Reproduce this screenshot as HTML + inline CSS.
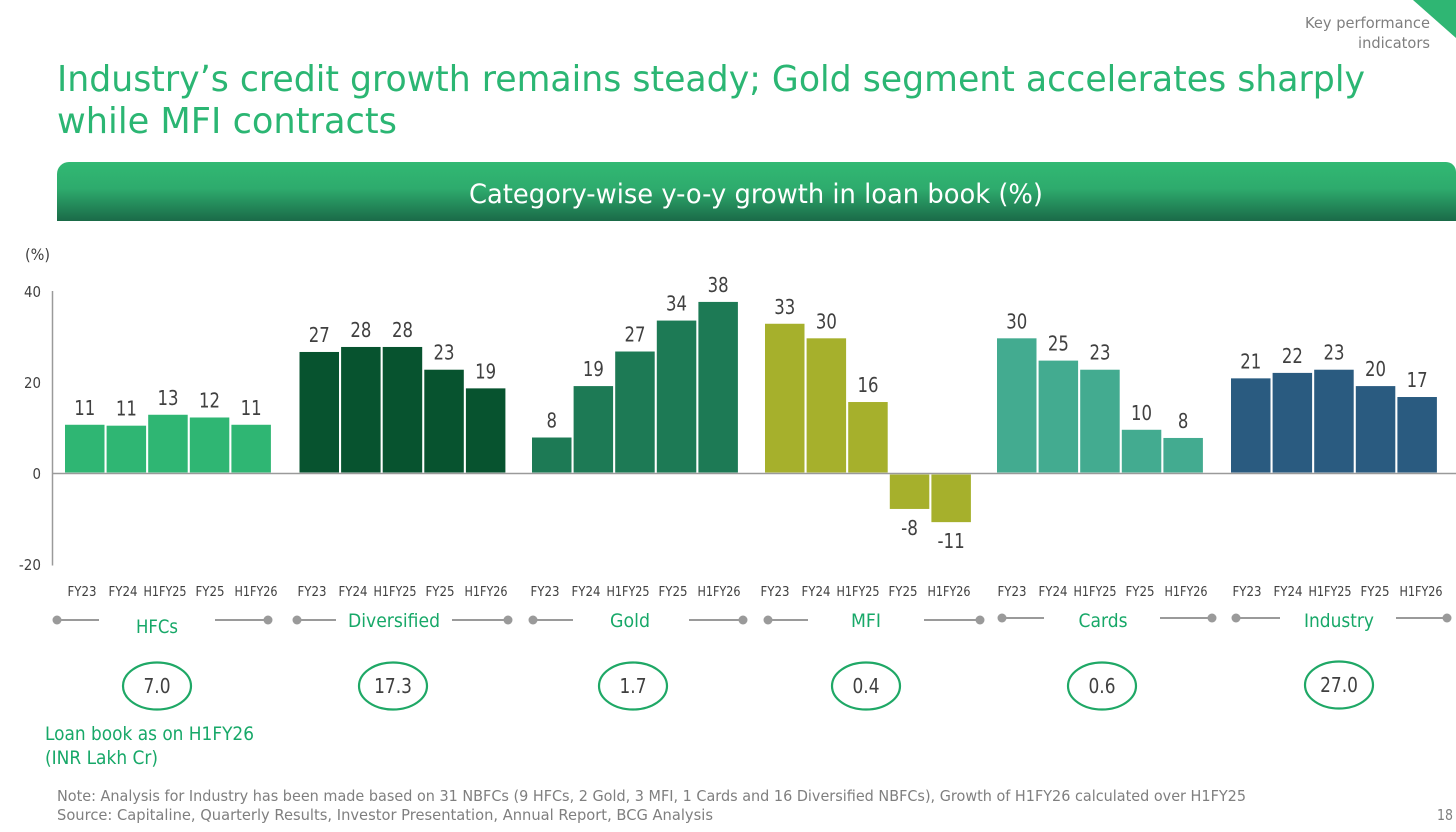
<!DOCTYPE html>
<html lang="en">
<head>
<meta charset="utf-8">
<title>Industry credit growth</title>
<style>
  html, body { margin: 0; padding: 0; background: #fff; }
  body { width: 1456px; height: 832px; overflow: hidden; }
  svg { display: block; font-family: "DejaVu Sans", "Liberation Sans", sans-serif; }
</style>
</head>
<body>
<svg id="chart" width="1456" height="832" viewBox="0 0 1456 832" xmlns="http://www.w3.org/2000/svg">
  <defs>
    <linearGradient id="headerGrad" x1="0" y1="0" x2="0" y2="1">
      <stop offset="0" stop-color="#31b973"/>
      <stop offset="0.45" stop-color="#2eab6d"/>
      <stop offset="1" stop-color="#1a6a48"/>
    </linearGradient>
  </defs>
  <rect width="1456" height="832" fill="#fff"/>
  <polygon points="1413,0 1456,0 1456,38" fill="#2fb673"/>
  <text x="1430" y="28" text-anchor="end" font-size="15.5" fill="#7f7f7f" textLength="125" lengthAdjust="spacingAndGlyphs">Key performance</text>
  <text x="1430" y="48" text-anchor="end" font-size="15.5" fill="#7f7f7f" textLength="72" lengthAdjust="spacingAndGlyphs">indicators</text>
  <text x="57" y="91" font-size="35.5" fill="#2bb673" textLength="1308" lengthAdjust="spacingAndGlyphs">Industry’s credit growth remains steady; Gold segment accelerates sharply</text>
  <text x="57" y="133" font-size="35.5" fill="#2bb673" textLength="340" lengthAdjust="spacingAndGlyphs">while MFI contracts</text>
  <path d="M57 221V174a12 12 0 0 1 12-12H1446a10 10 0 0 1 10 10V221Z" fill="url(#headerGrad)"/>
  <text x="469" y="203" font-size="27" fill="#fff" textLength="574" lengthAdjust="spacingAndGlyphs">Category-wise y-o-y growth in loan book (%)</text>
  <text x="25" y="260" font-size="16" fill="#404040" textLength="25" lengthAdjust="spacingAndGlyphs">(%)</text>
  <g id="plot"></g>
  <text x="45" y="740" font-size="19" fill="#17a868" textLength="209" lengthAdjust="spacingAndGlyphs">Loan book as on H1FY26</text>
  <text x="45" y="764" font-size="19" fill="#17a868" textLength="113" lengthAdjust="spacingAndGlyphs">(INR Lakh Cr)</text>
  <text x="57" y="801" font-size="15" fill="#7f7f7f" textLength="1189" lengthAdjust="spacingAndGlyphs">Note: Analysis for Industry has been made based on 31 NBFCs (9 HFCs, 2 Gold, 3 MFI, 1 Cards and 16 Diversified NBFCs), Growth of H1FY26 calculated over H1FY25</text>
  <text x="57" y="820" font-size="15" fill="#7f7f7f" textLength="656" lengthAdjust="spacingAndGlyphs">Source: Capitaline, Quarterly Results, Investor Presentation, Annual Report, BCG Analysis</text>
  <text x="1453" y="820" text-anchor="end" font-size="15" fill="#7f7f7f" textLength="16" lengthAdjust="spacingAndGlyphs">18</text>
</svg>
<script>
const categories = ["HFCs", "Diversified", "Gold", "MFI", "Cards", "Industry"];
const periods = ["FY23", "FY24", "H1FY25", "FY25", "H1FY26"];
const hfcValues = [10.6, 10.4, 12.8, 12.2, 10.6];
const diversifiedValues = [26.6, 27.7, 27.7, 22.7, 18.6];
const goldValues = [7.8, 19.1, 26.7, 33.5, 37.6];
const mfiValues = [32.8, 29.6, 15.6, -7.9, -10.8];
const cardsValues = [29.6, 24.7, 22.7, 9.5, 7.7];
const industryValues = [20.8, 22.0, 22.7, 19.1, 16.7];
const seriesValues = [hfcValues, diversifiedValues, goldValues, mfiValues, cardsValues, industryValues];
const hfcLabels = ["11", "11", "13", "12", "11"];
const diversifiedLabels = ["27", "28", "28", "23", "19"];
const goldLabels = ["8", "19", "27", "34", "38"];
const mfiLabels = ["33", "30", "16", "-8", "-11"];
const cardsLabels = ["30", "25", "23", "10", "8"];
const industryLabels = ["21", "22", "23", "20", "17"];
const seriesLabels = [hfcLabels, diversifiedLabels, goldLabels, mfiLabels, cardsLabels, industryLabels];
const loanBook = ["7.0", "17.3", "1.7", "0.4", "0.6", "27.0"];
const yTicks = [40, 20, 0, -20];

const NS = "http://www.w3.org/2000/svg";
const plot = document.getElementById("plot");
const colors = ["#2fb673", "#07532f", "#1d7a55", "#a6b02c", "#43ab90", "#2a5b80"];
const groupLeft = [65, 299.5, 532, 765, 997, 1231];
const tickOrigin = [65, 295, 528, 758, 995, 1230];
const tickOffset = [17, 58, 100, 145, 191];
const connectors = [[57, 99, 215, 268, 620], [297, 336, 452, 508, 620], [533, 573, 689, 743, 620], [768, 808, 924, 980, 620], [1002, 1044, 1160, 1212, 618], [1236, 1280, 1396, 1447, 618]];
const categoryPos = [[157, 633], [394, 627], [630, 627], [866, 627], [1103, 627], [1339, 627]];
const categoryWidth = [42, 92, 40, 30, 49, 70];
const ovalPos = [[157, 686], [393, 686], [633, 686], [866, 686], [1102, 686], [1339, 685]];
const BAR_WIDTH = 39.5;
const BAR_STEP = 41.6;

function yScale(v) { return 473 - v * 4.55; }
function barX(g, i) { return groupLeft[g] + i * BAR_STEP; }
function make(tag, attrs, parent) {
  const el = document.createElementNS(NS, tag);
  for (const k in attrs) el.setAttribute(k, attrs[k]);
  (parent || plot).appendChild(el);
  return el;
}
function numWidth(s, digit) {
  let w = 0;
  for (const c of s) w += c === "-" ? digit * 0.6 : c === "." ? digit * 0.5 : digit;
  return w;
}

const yAxis = make("line", { x1: 52.5, x2: 52.5, y1: yScale(40), y2: yScale(-20) + 1.5, stroke: "#9a9a9a", "stroke-width": 1.5 });



yTicks.forEach(t => {
  const s = String(t);
  const lab = make("text", { x: 41, y: yScale(t) + 6, "text-anchor": "end", "font-size": 15, fill: "#404040", textLength: numWidth(s, 8.5), lengthAdjust: "spacingAndGlyphs" });
  lab.textContent = s;
  
  
});

seriesValues.forEach((vals, g) => {
  vals.forEach((v, i) => {
    const top = Math.min(yScale(v), 472);
    const h = v >= 0 ? 472.5 - yScale(v) : yScale(v) - 474.5;
    const y = v >= 0 ? yScale(v) : 474.5;
    const x = barX(g, i);
    const bar = make("rect", { x: x, y: y, width: BAR_WIDTH, height: h, fill: colors[g] });
    
    
    const s = seriesLabels[g][i];
    const ly = v >= 0 ? top - 10 : yScale(v) + 26;
    const lab = make("text", { x: x + BAR_WIDTH / 2, y: ly, "text-anchor": "middle", "font-size": 20, fill: "#404040", textLength: numWidth(s, 10.5), lengthAdjust: "spacingAndGlyphs" });
    lab.textContent = s;
    
    
  });

  periods.forEach((p, i) => {
    const t = make("text", { x: tickOrigin[g] + tickOffset[i], y: 596, "text-anchor": "middle", "font-size": 13, fill: "#404040", textLength: p.length > 4 ? 43 : 29, lengthAdjust: "spacingAndGlyphs" });
    t.textContent = p;
    
    
  });

  const c = connectors[g];
  [[c[0], c[1]], [c[2], c[3]]].forEach((seg, idx) => {
    const line = make("line", { x1: seg[0], x2: seg[1], y1: c[4], y2: c[4], stroke: "#9a9a9a", "stroke-width": 2 });
    
    
    const dot = make("circle", { cx: idx === 0 ? seg[0] : seg[1], cy: c[4], r: 4.5, fill: "#9a9a9a" });
    
    
  });

  const cat = make("text", { x: categoryPos[g][0], y: categoryPos[g][1], "text-anchor": "middle", "font-size": 19, fill: "#17a868", textLength: categoryWidth[g], lengthAdjust: "spacingAndGlyphs" });
  cat.textContent = categories[g];
  
  

  const oval = make("ellipse", { cx: ovalPos[g][0], cy: ovalPos[g][1], rx: 34, ry: 23.5, fill: "#fff", stroke: "#1fa866", "stroke-width": 2.2 });
  
  
  const lb = make("text", { x: ovalPos[g][0], y: ovalPos[g][1] + 7, "text-anchor": "middle", "font-size": 20, fill: "#404040", textLength: numWidth(loanBook[g], 10.8), lengthAdjust: "spacingAndGlyphs" });
  lb.textContent = loanBook[g];
  
  
});

const zeroLine = make("line", { x1: 52, x2: 1456, y1: yScale(0) + 0.5, y2: yScale(0) + 0.5, stroke: "#9a9a9a", "stroke-width": 1.5 });


</script>
</body>
</html>
